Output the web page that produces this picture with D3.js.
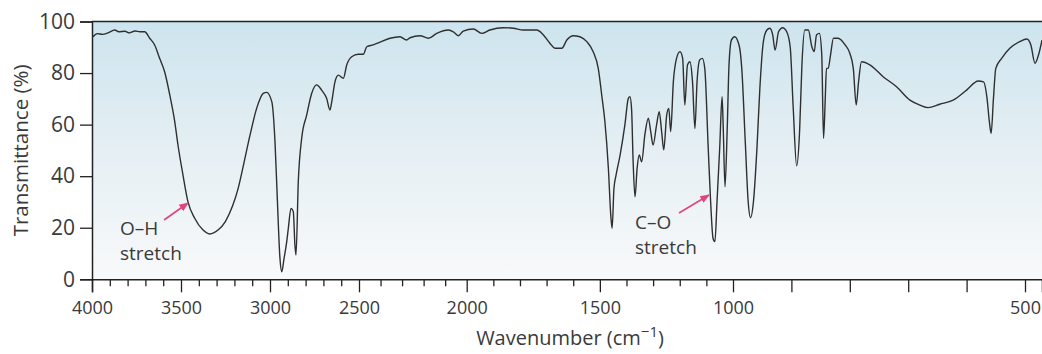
<!DOCTYPE html>
<html><head><meta charset="utf-8">
<script src="https://cdn.jsdelivr.net/npm/d3@7"></script>
<style>
html,body{margin:0;padding:0;background:#fff;}
svg{display:block;font-family:"Open Sans",sans-serif;}
</style></head>
<body>
<svg id="chart" width="1042" height="354"></svg>
<script>
// ---- data ----
const wavenumber = [3994,3970,3940,3910,3872,3850,3815,3790,3758,3730,3704,3676,3648,3620,3592,3563,3535,3517,3489,3461,3423,3376,3339,3292,3250,3210,3180,3150,3112,3075,3038,3019,2990,2972,2959,2944,2934,2921,2906,2897,2882,2869,2860,2854,2841,2822,2794,2766,2738,2710,2682,2663,2653,2635,2616,2588,2569,2541,2504,2480,2464,2434,2402,2356,2310,2279,2263,2217,2178,2139,2085,2062,2039,2016,1975,1944,1913,1863,1825,1787,1737,1712,1687,1668,1643,1624,1600,1575,1549,1525,1506,1493,1481,1468,1459,1454,1447,1439,1424,1406,1393,1387,1381,1375,1368,1360,1352,1343,1331,1318,1309,1300,1287,1277,1268,1260,1249,1241,1234,1224,1212,1199,1189,1181,1171,1162,1152,1143,1135,1125,1115,1106,1093,1084,1075,1068,1060,1050,1041,1037,1030,1022,1015,1006,997,989,985,979,974,970,965,959,954,948,942,937,932,928,922,915,908,902,897,891,886,882,877,871,865,861,857,852,848,845,842,840,837,833,828,820,808,800,794,789,785,780,765,743,720,697,680,666,646,623,600,580,571,565,561,558,554,550,540,526,509,497,490,483,477,471];
const transmittance = [94.1,95.3,95.0,95.6,96.7,96.0,96.2,95.6,96.3,96.0,96.0,93.5,90.9,85.7,80.5,71.5,61.1,52.1,40.5,30.1,23.7,19.1,17.6,19.1,22.5,28.5,35.0,44.0,56.0,66.3,72.1,72.5,68.9,53.4,31.4,8.1,2.9,8.1,14.6,19.8,27.5,26.2,13.3,9.4,37.9,54.7,63.7,72.1,75.4,73.4,70.2,65.7,68.9,76.6,79.2,78.0,83.1,86.3,87.3,87.3,90.2,90.9,92.0,93.5,94.1,92.8,93.7,94.5,93.5,95.4,96.7,96.0,94.5,96.3,97.1,95.4,96.7,97.6,97.4,96.7,96.7,94.8,91.5,89.6,89.6,92.8,94.5,94.1,92.2,88.3,81.8,71.5,61.1,43.1,24.9,19.8,35.3,40.5,48.2,59.9,70.2,70.8,66.3,45.6,32.0,43.1,48.2,45.6,56.0,62.5,57.3,52.1,59.9,65.0,57.3,50.2,63.7,66.3,57.3,76.6,85.7,88.3,85.7,67.6,83.1,84.4,76.6,58.5,76.6,85.1,85.7,81.8,50.8,30.1,15.9,14.6,30.1,50.8,70.8,59.9,35.9,57.3,83.1,92.8,94.1,90.2,81.8,53.4,30.1,23.9,30.1,50.8,74.1,92.2,96.7,97.4,94.8,88.9,96.0,97.6,96.0,90.0,67.0,44.0,57.3,83.1,96.7,96.7,90.2,88.3,94.8,95.4,87.0,54.7,70.2,81.8,81.8,87.0,93.5,93.5,90.9,87.7,81.8,67.6,76.6,84.4,83.1,78.6,74.7,69.5,67.6,66.6,67.9,69.5,73.4,76.9,76.6,70.2,61.1,56.6,70.2,81.8,85.7,89.6,92.2,93.2,90.9,83.8,87.0,92.8];
const yTicks = [0,20,40,60,80,100];
const xMajorTicks = [4000,3500,3000,2500,2000,1500,1000,500];
const xLongUnlabeled = [900,800,700,600];
const xMinorTicks = [3900,3800,3700,3600,3400,3300,3200,3100,2900,2800,2700,2600,2400,2300,2200,2100,1900,1800,1700,1600,1400,1300,1200,1100];
const annotations = [
  {lines:["O\u2013H","stretch"]},
  {lines:["C\u2013O","stretch"]}
];

// ---- layout ----
const svg = d3.select("#chart");
const L = 92, R = 1042, T = 21.5, B = 279.3;

// piecewise linear wavenumber axis, as in the reference
const x = d3.scaleLinear()
  .domain([4000,2500,2000,1000,500,471])
  .range([L,359,466.7,733,1025,R]);
const y = d3.scaleLinear().domain([0,100]).range([B,T]);

// background gradient
const defs = svg.append("defs");
const g = defs.append("linearGradient").attr("id","bg").attr("x1",0).attr("y1",0).attr("x2",0).attr("y2",1);
g.append("stop").attr("offset","0%").attr("stop-color","#cde4ee");
g.append("stop").attr("offset","45%").attr("stop-color","#e3eef3");
g.append("stop").attr("offset","100%").attr("stop-color","#f8f9fa");
defs.append("clipPath").attr("id","clip").append("rect")
  .attr("x",L).attr("y",T-2).attr("width",R-L).attr("height",B-T+4);
defs.append("marker").attr("id","arr").attr("viewBox","0 0 10 10")
  .attr("refX",9).attr("refY",5).attr("markerWidth",6).attr("markerHeight",6)
  .attr("orient","auto")
  .append("path").attr("d","M0,1 L10,5 L0,9 Z").attr("fill","#e2457c");

svg.append("rect").attr("x",L).attr("y",T).attr("width",R-L).attr("height",B-T).attr("fill","url(#bg)");

// spectrum
const pts = wavenumber.map((w,i)=>[w,transmittance[i]]);
svg.append("path").datum(pts)
  .attr("clip-path","url(#clip)")
  .attr("fill","none").attr("stroke","#2f2f2f").attr("stroke-width",1.4)
  .attr("stroke-linejoin","round")
  .attr("d", d3.line().x(d=>x(d[0])).y(d=>y(d[1])).curve(d3.curveMonotoneX));

// top frame line
svg.append("line").attr("x1",L).attr("x2",R).attr("y1",T).attr("y2",T)
  .attr("stroke","#222").attr("stroke-width",1.5);

// y axis
const yAx = svg.append("g").attr("transform",`translate(${L},0)`)
  .call(d3.axisLeft(y).tickValues(yTicks).tickSize(12).tickPadding(5).tickFormat(d3.format("d")));
yAx.select(".domain").attr("stroke","#222").attr("stroke-width",1.5);
yAx.selectAll(".tick line").attr("stroke","#222").attr("stroke-width",1.3);
yAx.selectAll("text").attr("font-size",21).attr("fill","#3a3a3a").attr("font-family","Open Sans");

// x axis minor
const xMin = svg.append("g").attr("transform",`translate(0,${B})`)
  .call(d3.axisBottom(x).tickValues(xMinorTicks).tickSize(7).tickFormat(""));
xMin.select(".domain").remove();
xMin.selectAll(".tick line").attr("stroke","#222").attr("stroke-width",1.3);

// x axis major
const xMaj = svg.append("g").attr("transform",`translate(0,${B})`)
  .call(d3.axisBottom(x).tickValues(xMajorTicks.concat(xLongUnlabeled)).tickSize(13).tickPadding(9)
    .tickFormat(d=> xMajorTicks.includes(d) ? d : ""));
xMaj.select(".domain").attr("stroke","#222").attr("stroke-width",1.5);
xMaj.selectAll(".tick line").attr("stroke","#222").attr("stroke-width",1.3);
xMaj.selectAll("text").attr("font-size",18).attr("fill","#3a3a3a").attr("font-family","Open Sans");

// axis titles
svg.append("text").attr("transform",`translate(28,${(T+B)/2}) rotate(-90)`)
  .attr("text-anchor","middle").attr("font-size",20.5).attr("fill","#3a3a3a")
  .text("Transmittance (%)");
const xt = svg.append("text").attr("x",570).attr("y",345).attr("text-anchor","middle")
  .attr("font-size",20).attr("fill","#3a3a3a");
xt.append("tspan").text("Wavenumber (cm");
xt.append("tspan").attr("dy",-8).attr("font-size",15).text("\u22121");
xt.append("tspan").attr("dy",8).text(")");

// annotations
const annPos = [
  {tx:120, ty:235, ax1:164, ay1:220, ax2:188, ay2:203},
  {tx:635, ty:229, ax1:679, ay1:213, ax2:709, ay2:195}
];
annotations.forEach((a,i)=>{
  const p = annPos[i];
  const t = svg.append("text").attr("x",p.tx).attr("y",p.ty).attr("font-size",19).attr("fill","#3a3a3a");
  a.lines.forEach((ln,j)=> t.append("tspan").attr("x",p.tx).attr("dy", j===0?0:24.5).text(ln));
  svg.append("line").attr("x1",p.ax1).attr("y1",p.ay1).attr("x2",p.ax2).attr("y2",p.ay2)
    .attr("stroke","#e2457c").attr("stroke-width",1.6).attr("marker-end","url(#arr)");
});
</script>
</body></html>
